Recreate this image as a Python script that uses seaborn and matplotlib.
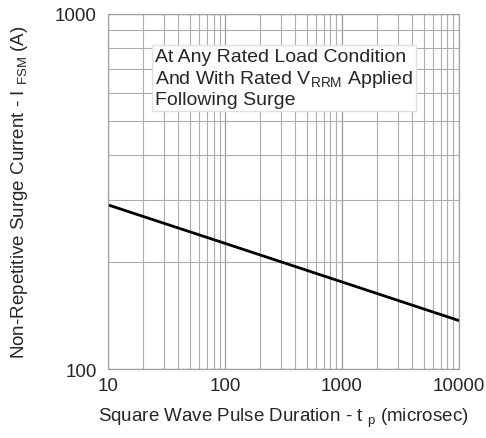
import matplotlib
matplotlib.use("Agg")
import matplotlib.pyplot as plt
from matplotlib.ticker import NullFormatter
import pandas as pd
import seaborn as sns

# pulse duration (microsec) vs surge current (A)
pulse_us = [10, 100, 1000, 10000]
surge_a = [290, 226, 176, 137]

sns.set_style("white")
plt.rcParams['font.family'] = ['Liberation Sans', 'DejaVu Sans']
plt.rcParams['mathtext.fontset'] = 'custom'
plt.rcParams['mathtext.rm'] = 'Liberation Sans'

df = pd.DataFrame({'tp': pulse_us, 'ifsm': surge_a})

fig = plt.figure(figsize=(4.86, 4.39), dpi=100)
ax = fig.add_axes([0.222, 0.157, 0.722, 0.809])

sns.lineplot(data=df, x='tp', y='ifsm', ax=ax, color='black', linewidth=2)

ax.set_xscale('log')
ax.set_yscale('log')
ax.set_xlim(10, 10000)
ax.set_ylim(100, 1000)

ax.set_xticks([10, 100, 1000, 10000])
ax.set_xticklabels(['10', '100', '1000', '10000'])
ax.set_yticks([100, 1000])
ax.set_yticklabels(['100', '1000'])
ax.xaxis.set_minor_formatter(NullFormatter())
ax.yaxis.set_minor_formatter(NullFormatter())
ax.tick_params(axis='both', which='both', length=0, labelsize=13.5, pad=6)
ax.tick_params(axis='y', pad=8)

ax.grid(True, which='major', color='#9a9a9a', linewidth=0.9)
ax.grid(True, which='minor', color='#adadad', linewidth=0.8)
for s in ax.spines.values():
    s.set_color('#a0a0a0')
    s.set_linewidth(0.9)

ax.set_xlabel(r'Square Wave Pulse Duration - t $_\mathregular{p}$ (microsec)', fontsize=13.5, labelpad=8)
ax.set_ylabel(r'Non-Repetitive Surge Current - I $_\mathregular{FSM}$ (A)', fontsize=13.5, labelpad=18)

ax.text(0.135, 0.905,
        'At Any Rated Load Condition\nAnd With Rated V$_\\mathregular{RRM}$ Applied\nFollowing Surge',
        transform=ax.transAxes, ha='left', va='top', fontsize=14, linespacing=1.2,
        bbox=dict(facecolor='white', edgecolor='#e0e0e0', boxstyle='square,pad=0.15'))

fig.savefig('out.png', dpi=100)
